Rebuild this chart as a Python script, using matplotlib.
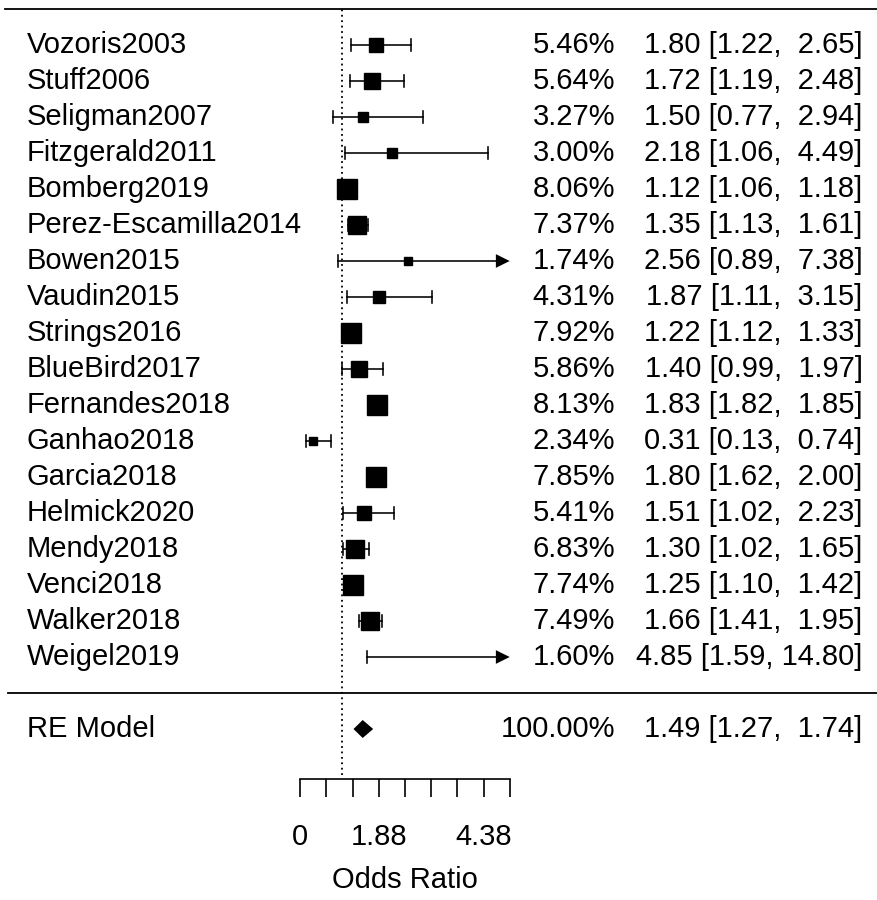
import numpy as np
import matplotlib
matplotlib.use('Agg')
import matplotlib.pyplot as plt
from matplotlib.patches import Polygon

# study-level odds ratios, 95% CI and random-effects weights (%)
studies = ['Vozoris2003', 'Stuff2006', 'Seligman2007', 'Fitzgerald2011',
           'Bomberg2019', 'Perez-Escamilla2014', 'Bowen2015', 'Vaudin2015',
           'Strings2016', 'BlueBird2017', 'Fernandes2018', 'Ganhao2018',
           'Garcia2018', 'Helmick2020', 'Mendy2018', 'Venci2018',
           'Walker2018', 'Weigel2019']
weights = [5.46, 5.64, 3.27, 3.00, 8.06, 7.37, 1.74, 4.31, 7.92, 5.86,
           8.13, 2.34, 7.85, 5.41, 6.83, 7.74, 7.49, 1.60]
or_est = [1.80, 1.72, 1.50, 2.18, 1.12, 1.35, 2.56, 1.87, 1.22, 1.40,
          1.83, 0.31, 1.80, 1.51, 1.30, 1.25, 1.66, 4.85]
ci_lo = [1.22, 1.19, 0.77, 1.06, 1.06, 1.13, 0.89, 1.11, 1.12, 0.99,
         1.82, 0.13, 1.62, 1.02, 1.02, 1.10, 1.41, 1.59]
ci_hi = [2.65, 2.48, 2.94, 4.49, 1.18, 1.61, 7.38, 3.15, 1.33, 1.97,
         1.85, 0.74, 2.00, 2.23, 1.65, 1.42, 1.95, 14.80]

# pooled RE model
re_label = 'RE Model'
re_weight = 100.00
re_est, re_lo, re_hi = 1.49, 1.27, 1.74

# axis ticks (0..5 in 9 steps), only some labelled
x_ticks = np.linspace(0, 5, 9)
x_ticklabels = ['0', '', '', '1.88', '', '', '', '4.38', '']
x_label = 'Odds Ratio'

FONT = 'Liberation Sans'
FS = 21
plt.rcParams['font.family'] = [FONT, 'DejaVu Sans']

# x in odds-ratio units, y in rows (studies k..1, summary at -1)
alim = (0, 5)
xlim = (-7.171, 13.771)
ylim = (-5.75, 19.25)
axis_y = -2.39
k = len(studies)
rows = np.arange(k, 0, -1)

# column positions
x_names = -6.53
x_pct = 7.52
x_ci = 13.43

fig = plt.figure(figsize=(8.77, 9.0), dpi=100)
ax = fig.add_axes([0, 0, 1, 1])
ax.set_xlim(*xlim)
ax.set_ylim(*ylim)

# square sizes scaled like metafor (0.5 .. 1.5)
w = np.asarray(weights)
psize = (w - w.min()) / (w.max() - w.min()) + 0.5
ms = psize * 9.7

lw = 1.15
cap = 0.17
head_h = 0.19
head_len = 0.33

# horizontal rules
ax.plot([-7.05, xlim[1]], [k + 1, k + 1], color='black', lw=1.3)
ax.plot([-6.98, xlim[1]], [0, 0], color='black', lw=1.3)

# reference line at OR = 1
ax.plot([1, 1], [axis_y + 0.1, k + 1], color='black', lw=1.3,
        linestyle=(0, (1, 2)))

for r, e, lo, hi, m in zip(rows, or_est, ci_lo, ci_hi, ms):
    lo_c = max(lo, alim[0])
    clipped = hi > alim[1]
    if clipped:
        ax.plot([lo_c, alim[1] - head_len], [r, r], color='black', lw=lw)
        ax.add_patch(Polygon([[alim[1] - head_len, r + head_h],
                              [alim[1], r],
                              [alim[1] - head_len, r - head_h]],
                             closed=True, color='black', lw=0, zorder=4))
    else:
        ax.plot([lo_c, hi], [r, r], color='black', lw=lw)
        ax.plot([hi, hi], [r - cap, r + cap], color='black', lw=lw)
    if lo >= alim[0]:
        ax.plot([lo, lo], [r - cap, r + cap], color='black', lw=lw)
    # point hidden under the arrow head
    if clipped and e > alim[1] - 2 * head_len:
        continue
    ax.plot(e, r, marker='s', ms=m, color='black', mec='black', zorder=3)

# summary diamond
ax.add_patch(Polygon([[re_lo, -1], [re_est, -1 + 0.25],
                      [re_hi, -1], [re_est, -1 - 0.25]],
                     closed=True, color='black', lw=0))

# text columns
for r, name, wt, e, lo, hi in zip(rows, studies, weights, or_est, ci_lo, ci_hi):
    ax.text(x_names, r, name, ha='left', va='center', fontsize=FS)
    ax.text(x_pct, r, '{:.2f}%'.format(wt), ha='right', va='center', fontsize=FS)
    ax.text(x_ci, r, '{:.2f} [{:.2f}, {:5.2f}]'.format(e, lo, hi),
            ha='right', va='center', fontsize=FS)

ax.text(x_names, -1, re_label, ha='left', va='center', fontsize=FS)
ax.text(x_pct, -1, '{:.2f}%'.format(re_weight), ha='right', va='center', fontsize=FS)
ax.text(x_ci, -1, '{:.2f} [{:.2f}, {:5.2f}]'.format(re_est, re_lo, re_hi),
        ha='right', va='center', fontsize=FS)

# bottom axis
for s in ['top', 'right', 'left']:
    ax.spines[s].set_visible(False)
ax.spines['bottom'].set_position(('data', axis_y))
ax.spines['bottom'].set_bounds(*alim)
ax.spines['bottom'].set_linewidth(1.2)
ax.set_xticks(x_ticks)
ax.set_xticklabels(x_ticklabels)
ax.tick_params(axis='x', direction='out', length=12.7, width=1.2,
               pad=19, labelsize=FS)
ax.set_yticks([])
ax.text(np.mean(alim), -5.2, x_label, ha='center', va='center', fontsize=FS)

fig.savefig('out.png', dpi=100)
